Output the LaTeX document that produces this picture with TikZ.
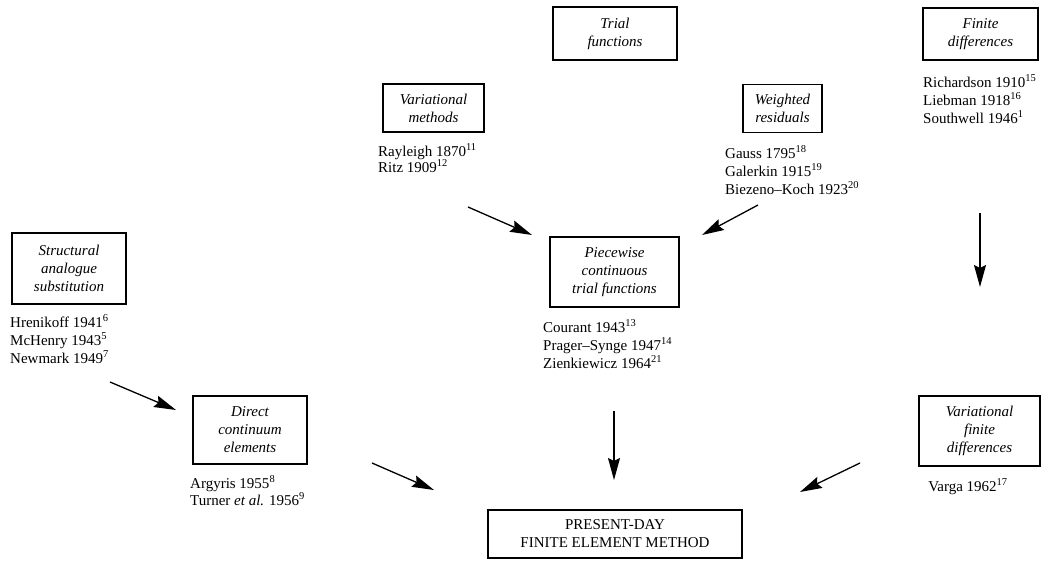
\documentclass[tikz,border=0pt]{standalone}
\usepackage{fontspec}
\setmainfont{Liberation Serif}
\usetikzlibrary{arrows.meta}
\begin{document}
\begin{tikzpicture}[x=1pt,y=-1pt,
  box/.style={draw, line width=1.3pt, inner sep=0pt, align=center, font=\fontsize{15}{18}\selectfont\itshape},
  lst/.style={anchor=base west, inner sep=0pt, font=\fontsize{15}{18}\selectfont},
  arr/.style={line width=1.3pt, -{Stealth[length=22pt,width=12pt,inset=3pt]}}]
\useasboundingbox (0,0) rectangle (1044,560);
% boxes
\node[box, minimum width=124pt, minimum height=53pt] (trial) at (615,33.5) {Trial\\functions};
\node[box, minimum width=115pt, minimum height=52pt] (fd) at (980.5,34) {Finite\\differences};
\node[box, minimum width=101pt, minimum height=48pt] (vm) at (433.5,108) {Variational\\methods};
\node[box, minimum width=79pt, minimum height=48pt] (wr) at (782.5,108.5) {Weighted\\residuals};
\node[box, minimum width=114pt, minimum height=71pt] (sas) at (69,268.5) {Structural\\analogue\\substitution};
\node[box, minimum width=129pt, minimum height=70pt] (pw) at (614.5,272) {Piecewise\\continuous\\trial functions};
\node[box, minimum width=114pt, minimum height=68pt] (dce) at (250,430) {Direct\\continuum\\elements};
\node[box, minimum width=121pt, minimum height=70pt] (vfd) at (979.5,431) {Variational\\finite\\differences};
\node[box, minimum width=254pt, minimum height=48pt, font=\fontsize{15}{18}\selectfont] (fem) at (615,534) {PRESENT-DAY\\FINITE ELEMENT METHOD};
% lists
\node[lst] (rich) at (923,87) {Richardson 1910\textsuperscript{15}};
\node[lst] (lieb) at (923,105) {Liebman 1918\textsuperscript{16}};
\node[lst] (south) at (923,123) {Southwell 1946\textsuperscript{1}};
\node[lst] (ray) at (378,156) {Rayleigh 1870\textsuperscript{11}};
\node[lst] (ritz) at (378,172) {Ritz 1909\textsuperscript{12}};
\node[lst] (gauss) at (725,158) {Gauss 1795\textsuperscript{18}};
\node[lst] (gal) at (725,176) {Galerkin 1915\textsuperscript{19}};
\node[lst] (bk) at (725,194) {Biezeno--Koch 1923\textsuperscript{20}};
\node[lst] (hren) at (10,327) {Hrenikoff 1941\textsuperscript{6}};
\node[lst] (mch) at (10,345) {McHenry 1943\textsuperscript{5}};
\node[lst] (newm) at (10,363) {Newmark 1949\textsuperscript{7}};
\node[lst] (cour) at (543,332) {Courant 1943\textsuperscript{13}};
\node[lst] (ps) at (543,350) {Prager--Synge 1947\textsuperscript{14}};
\node[lst] (zienk) at (543,368) {Zienkiewicz 1964\textsuperscript{21}};
\node[lst] (arg) at (190,488) {Argyris 1955\textsuperscript{8}};
\node[lst] (turn) at (190,505) {Turner \textit{et al.} 1956\textsuperscript{9}};
\node[lst, anchor=base] (varga) at (968,491) {Varga 1962\textsuperscript{17}};
% arrow ends
\coordinate (a1s) at (468,207); \coordinate (a1e) at (532,235);
\coordinate (a2s) at (758,205); \coordinate (a2e) at (702,235);
\coordinate (a3s) at (980,213); \coordinate (a3e) at (980,287);
\coordinate (a4s) at (110,382); \coordinate (a4e) at (176,410);
\coordinate (a5s) at (372,463); \coordinate (a5e) at (434,490);
\coordinate (a6s) at (614,411); \coordinate (a6e) at (614,480);
\coordinate (a7s) at (860,463); \coordinate (a7e) at (800,492);
\draw[arr] (a1s) -- (a1e);
\draw[arr] (a2s) -- (a2e);
\draw[arr] (a3s) -- (a3e);
\draw[arr] (a4s) -- (a4e);
\draw[arr] (a5s) -- (a5e);
\draw[arr] (a6s) -- (a6e);
\draw[arr] (a7s) -- (a7e);
\end{tikzpicture}
\end{document}
